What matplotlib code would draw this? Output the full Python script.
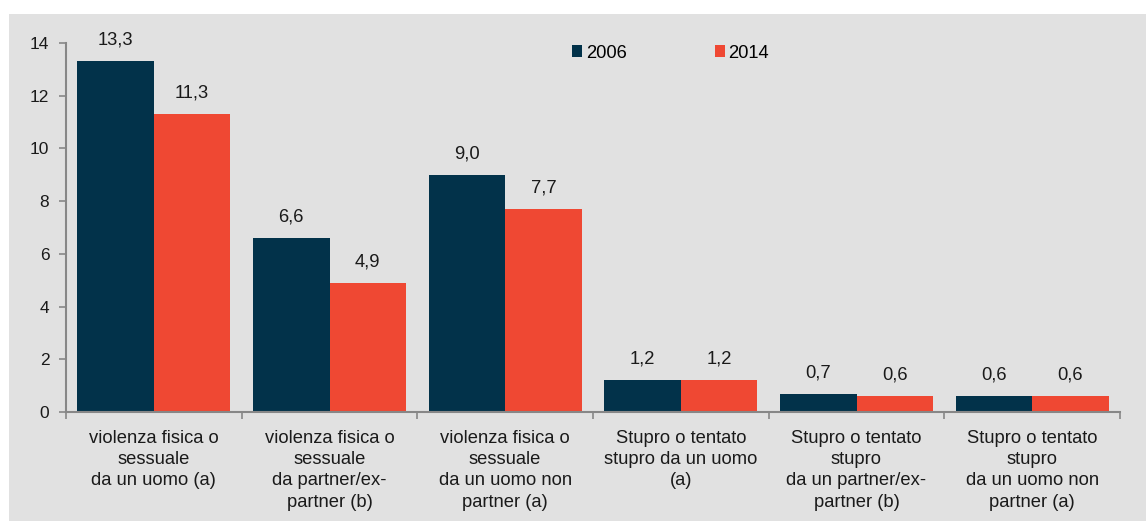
import matplotlib
matplotlib.use("Agg")
import matplotlib.pyplot as plt
from matplotlib.patches import Rectangle, Patch
import numpy as np

plt.rcParams['font.family'] = ['Liberation Sans', 'DejaVu Sans']

categories = [
    "violenza fisica o\nsessuale\nda un uomo (a)",
    "violenza fisica o\nsessuale\nda partner/ex-\npartner (b)",
    "violenza fisica o\nsessuale\nda un uomo non\npartner (a)",
    "Stupro o tentato\nstupro da un uomo\n(a)",
    "Stupro o tentato\nstupro\nda un partner/ex-\npartner (b)",
    "Stupro o tentato\nstupro\nda un uomo non\npartner (a)",
]
series_names = ["2006", "2014"]
values_2006 = [13.3, 6.6, 9.0, 1.2, 0.7, 0.6]
values_2014 = [11.3, 4.9, 7.7, 1.2, 0.6, 0.6]
yticks = [0, 2, 4, 6, 8, 10, 12, 14]

c2006 = "#02324a"
c2014 = "#ef4833"
bg = "#e1e1e1"
axis_gray = "#878787"
txt = "#1a1a1a"
fs = 13.2

W, H = 1146, 521
fig = plt.figure(figsize=(W / 100, H / 100), dpi=100, facecolor="white")
fig.patches.append(Rectangle((9 / W, 0), 1 - 9 / W, 1 - 14 / H,
                             transform=fig.transFigure, facecolor=bg,
                             edgecolor="none", zorder=-10))

ax = fig.add_axes([66 / W, 1 - 412 / H, (1120 - 66) / W, (412 - 43) / H])
ax.set_facecolor("none")

x = np.arange(len(categories))
bw = 0.435
b1 = ax.bar(x - bw / 2, values_2006, bw, color=c2006, zorder=2)
b2 = ax.bar(x + bw / 2, values_2014, bw, color=c2014, zorder=2)

def fmt(v):
    return f"{v:.1f}".replace(".", ",")

for bars, vals in ((b1, values_2006), (b2, values_2014)):
    for rect, v in zip(bars, vals):
        ax.annotate(fmt(v), (rect.get_x() + rect.get_width() / 2, v),
                    xytext=(0, 9), textcoords="offset points",
                    ha="center", va="bottom", fontsize=fs, color=txt)

ax.set_xlim(-0.5, len(categories) - 0.5)
ax.set_ylim(0, 14)
ax.set_yticks(yticks)
ax.set_yticklabels([str(t) for t in yticks], fontsize=12.5, color=txt)
ax.tick_params(axis="y", length=5, width=1.2, color=axis_gray, pad=7)

ax.set_xticks(x)
ax.set_xticklabels(categories, fontsize=fs, color=txt, linespacing=1.32)
ax.tick_params(axis="x", which="major", length=0, pad=13)
ax.set_xticks(np.arange(len(categories) + 1) - 0.5, minor=True)
ax.tick_params(axis="x", which="minor", length=5, width=1.2, color=axis_gray)

for s in ("top", "right"):
    ax.spines[s].set_visible(False)
for s in ("left", "bottom"):
    ax.spines[s].set_color(axis_gray)
    ax.spines[s].set_linewidth(1.5)

handles = [Patch(facecolor=c2006), Patch(facecolor=c2014)]
ax.legend(handles, series_names, loc="center left", ncol=2, frameon=False,
          bbox_to_anchor=(572 / W, 1 - 53 / H), bbox_transform=fig.transFigure,
          fontsize=fs, handlelength=0.55, handleheight=0.55,
          handletextpad=0.2, columnspacing=4.8, borderpad=0, borderaxespad=0)

fig.savefig("out.png", dpi=100, facecolor=fig.get_facecolor())
